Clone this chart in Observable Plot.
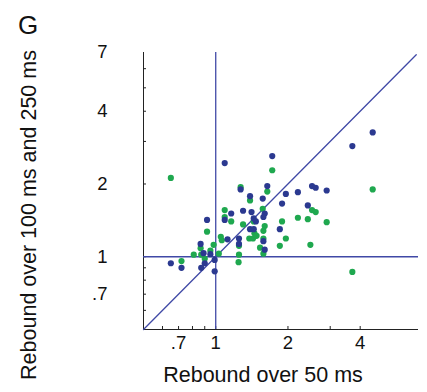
<!DOCTYPE html>
<html>
<head>
<meta charset="utf-8">
<script src="https://cdn.jsdelivr.net/npm/d3@7"></script>
<script src="https://cdn.jsdelivr.net/npm/@observablehq/plot@0.6"></script>
<style>
  html, body { margin: 0; padding: 0; background: #fff; }
  #wrap { position: relative; width: 427px; height: 392px; font-family: 'Liberation Sans', Arial, sans-serif; color: #111; }
  #chart { position: absolute; left: 0; top: 0; }
  .lbl { position: absolute; white-space: nowrap; transform: translate(-50%, -50%); line-height: 1; }
  #ytitle { transform: translate(-50%, -50%) rotate(-90deg); }
</style>
</head>
<body>
<div id="wrap">
  <div id="chart"></div>
  <div class="lbl" id="panel" style="left:28px; top:25px; font-size:26px;"></div>
  <div class="lbl" id="xtitle" style="left:263px; top:376px; font-size:21.5px;"></div>
  <div class="lbl" id="ytitle" style="left:30px; top:214.5px; font-size:21.5px;"></div>
</div>
<script>
// Blue series
const blueX = [0.65,0.72,0.87,0.90,0.89,0.865,0.92,0.99,0.99,0.95,1.09,1.09,1.16,1.12,1.25,1.25,1.27,1.30,1.39,1.41,1.39,1.44,1.47,1.44,1.57,1.60,1.58,1.58,1.60,1.72,1.64,1.89,1.96,2.20,1.85,2.42,2.52,2.61,2.90,3.71,4.51];
const blueY = [0.94,0.90,0.90,0.94,1.035,1.13,1.42,0.87,0.97,1.025,2.44,1.42,1.51,1.18,1.19,1.13,1.90,1.55,1.78,1.53,1.30,1.44,1.40,1.30,1.74,1.51,1.46,1.16,1.07,2.61,1.96,1.66,1.82,1.85,1.30,1.63,1.96,1.93,1.88,2.87,3.27];
// Green series
const greenX = [0.65,0.72,0.81,0.865,0.87,0.90,0.92,0.95,0.98,1.03,1.05,1.06,1.09,1.09,1.16,1.27,1.30,1.25,1.25,1.245,1.39,1.38,1.43,1.44,1.45,1.48,1.53,1.57,1.60,1.58,1.58,1.58,1.64,1.72,1.89,1.96,1.85,2.20,2.42,2.48,2.52,2.61,2.90,3.71,4.51];
const greenY = [2.12,0.96,1.02,1.085,1.02,0.98,1.27,1.06,1.12,1.03,1.21,1.17,1.56,1.46,1.40,1.94,1.36,1.11,1.02,0.95,1.71,1.19,1.19,1.40,1.25,1.22,1.09,1.58,1.34,1.28,1.19,1.03,1.86,2.28,1.40,1.19,1.11,1.45,1.43,1.12,1.56,1.53,1.39,0.865,1.90];

// Axes
const axisDomain = [0.5, 7];
const xTickLabels = [0.7, 1, 2, 4];
const yTickLabels = [0.7, 1, 2, 4, 7];
const xMinorTicks = [0.6, 0.7, 0.8, 0.9, 1, 2, 3, 4];
const yMinorTicks = [0.6, 0.7, 0.8, 0.9, 1, 2, 3, 4, 5, 6];
const refValue = [1];
const diagonal = [0.5, 6.85];

const panelLabel = "G";
const xTitle = "Rebound over 50 ms";
const yTitle = "Rebound over 100 ms and 250 ms";

const blueColor = "#2b3990";
const greenColor = "#1fa84f";
const lineColor = "#4049a6";

const blue = blueX.map((x, i) => ({x, y: blueY[i]}));
const green = greenX.map((x, i) => ({x, y: greenY[i]}));
const diag = diagonal.map(v => ({x: v, y: v}));
const fmt = d => d < 1 ? String(d).replace(/^0/, "") : String(d);

const W = 427, H = 392, mL = 143, mR = 9, mT = 52, mB = 63;
const frameW = W - mL - mR, frameH = H - mT - mB;

const chart = Plot.plot({
  width: W, height: H,
  marginLeft: mL, marginRight: mR, marginTop: mT, marginBottom: mB,
  style: {fontFamily: "'Liberation Sans', Arial, sans-serif", fontSize: "18.5px", color: "#111", background: "transparent", overflow: "visible"},
  x: {type: "log", domain: axisDomain, ticks: xTickLabels, tickFormat: fmt, tickSize: 0, tickPadding: 6, label: null},
  y: {type: "log", domain: axisDomain, ticks: yTickLabels, tickFormat: fmt, tickSize: 0, tickPadding: 36, label: null},
  marks: [
    Plot.ruleX([axisDomain[0]], {stroke: "#222", strokeWidth: 1}),
    Plot.ruleY([axisDomain[0]], {stroke: "#222", strokeWidth: 1}),
    Plot.tickY(yMinorTicks, {y: d => d, stroke: "#222", insetRight: frameW - 3}),
    Plot.tickX(xMinorTicks, {x: d => d, stroke: "#222", insetTop: frameH - 3}),
    Plot.ruleX(refValue, {stroke: lineColor, strokeWidth: 1.3}),
    Plot.ruleY(refValue, {stroke: lineColor, strokeWidth: 1.3}),
    Plot.line(diag, {x: "x", y: "y", stroke: lineColor, strokeWidth: 1.3}),
    Plot.dot(green, {x: "x", y: "y", r: 3.1, fill: greenColor}),
    Plot.dot(blue, {x: "x", y: "y", r: 3.1, fill: blueColor})
  ]
});
document.getElementById("chart").appendChild(chart);
document.getElementById("panel").textContent = panelLabel;
document.getElementById("xtitle").textContent = xTitle;
document.getElementById("ytitle").textContent = yTitle;
</script>
</body>
</html>
